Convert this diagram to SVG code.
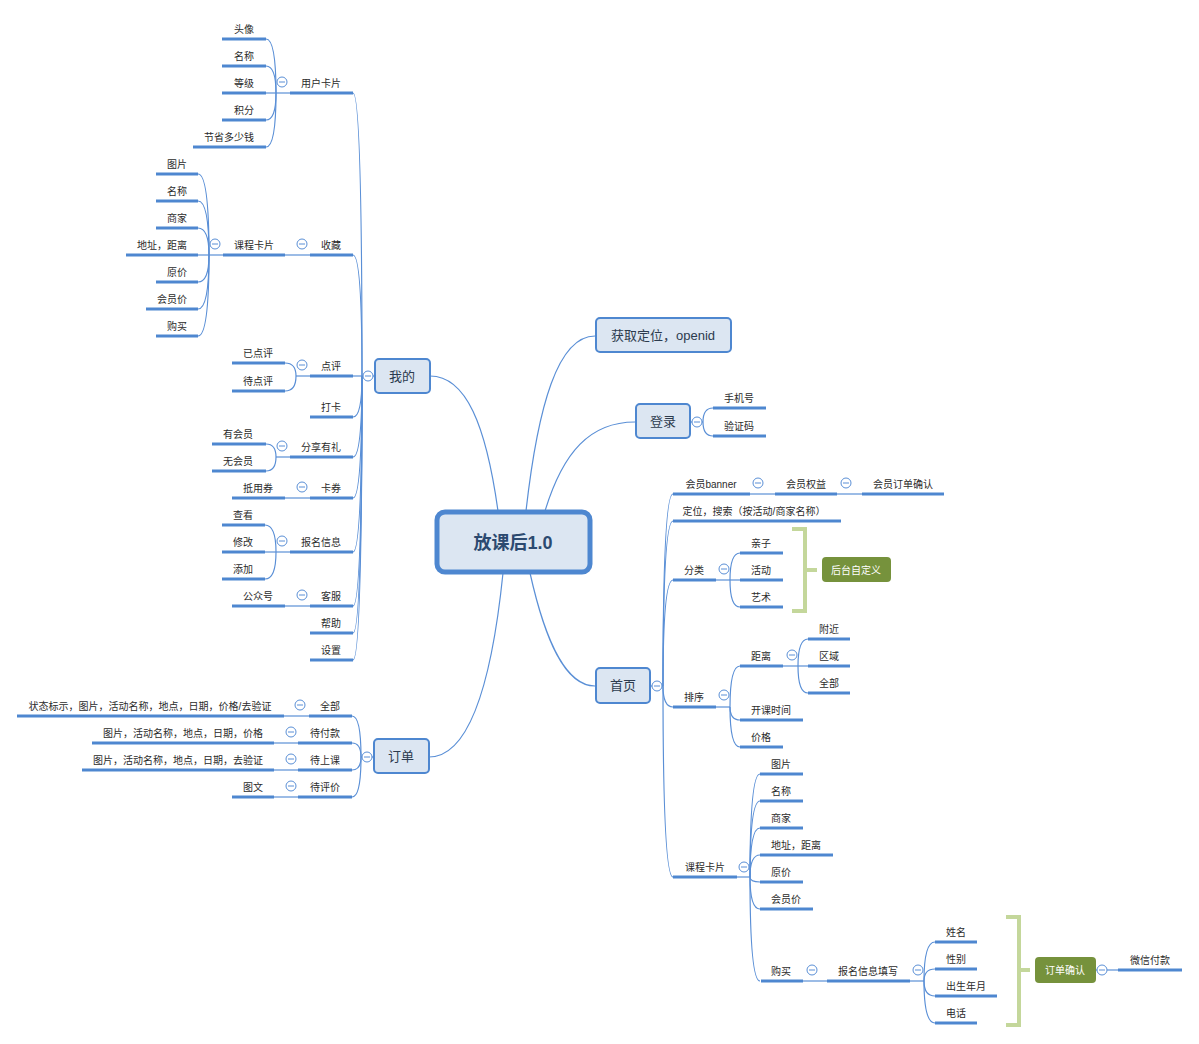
<svg xmlns="http://www.w3.org/2000/svg" width="1199" height="1044" viewBox="0 0 1199 1044">
<style>
  .u{stroke:#4e87d0;stroke-width:3;fill:none}
  .c{stroke:#5a8fd6;stroke-width:1.2;fill:none}
  .t{font-family:"Liberation Sans","Noto Sans CJK SC",sans-serif;font-size:10px;fill:#2b2b2b;text-anchor:middle}
  .n{fill:#dce6f2;stroke:#4e87d0;stroke-width:2}
  .nt{font-family:"Liberation Sans","Noto Sans CJK SC",sans-serif;font-size:13px;fill:#2c3b4e;text-anchor:middle}
  .tg circle{fill:#fff;stroke:#5a8fd6;stroke-width:1}
  .tg path{stroke:#5a8fd6;stroke-width:1}
  .br{stroke:#c4d79b;stroke-width:4;fill:none}
  .g{fill:#76923c}
  .gt{font-family:"Liberation Sans","Noto Sans CJK SC",sans-serif;font-size:10px;fill:#fff;text-anchor:middle}
</style>
<defs>
  <g id="tog" class="tg"><circle r="5"/><path d="M-3,0H3"/></g>
</defs>
<rect width="1199" height="1044" fill="#fff"/>

<!-- connectors -->
<g id="connectors">
  <!-- root to main topics -->
  <path class="c" d="M498,511 C486,425 466,376 430,376"/>
  <path class="c" d="M526,511 C538,405 558,336 595,336"/>
  <path class="c" d="M545,511 C563,452 590,422 635,422"/>
  <path class="c" d="M530,573 C545,640 565,686 595,686"/>
  <path class="c" d="M503,573 C492,680 470,757 429,757"/>

  <!-- 我的 trunk -->
  <path class="c" d="M374,376 H362"/>
  <path class="c" d="M353,93 Q362,93 362,376"/>
  <path class="c" d="M353,255 Q362,255 362,376"/>
  <path class="c" d="M353,376 H362"/>
  <path class="c" d="M353,417 Q362,417 362,376"/>
  <path class="c" d="M353,457 Q362,457 362,376"/>
  <path class="c" d="M353,498 Q362,498 362,376"/>
  <path class="c" d="M353,552 Q362,552 362,376"/>
  <path class="c" d="M353,606 Q362,606 362,376"/>
  <path class="c" d="M353,633 Q362,633 362,376"/>
  <path class="c" d="M353,660 Q362,660 362,376"/>

  <!-- 用户卡片 -->
  <path class="c" d="M290,93 H276"/>
  <path class="c" d="M266,39 Q276,39 276,93"/>
  <path class="c" d="M266,66 Q276,66 276,93"/>
  <path class="c" d="M266,93 H276"/>
  <path class="c" d="M266,120 Q276,120 276,93"/>
  <path class="c" d="M266,147 Q276,147 276,93"/>

  <!-- 收藏 / 课程卡片 -->
  <path class="c" d="M310,255 H285"/>
  <path class="c" d="M223,255 H209"/>
  <path class="c" d="M198,174 Q209,174 209,255"/>
  <path class="c" d="M198,201 Q209,201 209,255"/>
  <path class="c" d="M198,228 Q209,228 209,255"/>
  <path class="c" d="M198,255 H209"/>
  <path class="c" d="M198,282 Q209,282 209,255"/>
  <path class="c" d="M198,309 Q209,309 209,255"/>
  <path class="c" d="M198,336 Q209,336 209,255"/>

  <!-- 点评 -->
  <path class="c" d="M310,376 H296"/>
  <path class="c" d="M285,363 Q296,363 296,376"/>
  <path class="c" d="M285,391 Q296,391 296,376"/>

  <!-- 分享有礼 -->
  <path class="c" d="M290,457 H276"/>
  <path class="c" d="M266,444 Q276,444 276,457"/>
  <path class="c" d="M266,471 Q276,471 276,457"/>

  <!-- 卡券 -->
  <path class="c" d="M310,498 H285"/>

  <!-- 报名信息 -->
  <path class="c" d="M290,552 H276"/>
  <path class="c" d="M265,525 Q276,525 276,552"/>
  <path class="c" d="M265,552 H276"/>
  <path class="c" d="M265,579 Q276,579 276,552"/>

  <!-- 客服 -->
  <path class="c" d="M310,606 H285"/>

  <!-- 订单 -->
  <path class="c" d="M373,757 H361"/>
  <path class="c" d="M352,716 Q361,716 361,757"/>
  <path class="c" d="M352,743 Q361,743 361,757"/>
  <path class="c" d="M352,770 Q361,770 361,757"/>
  <path class="c" d="M352,797 Q361,797 361,757"/>
  <path class="c" d="M309,716 H284"/>
  <path class="c" d="M298,743 H274"/>
  <path class="c" d="M298,770 H274"/>
  <path class="c" d="M298,797 H274"/>

  <!-- 登录 -->
  <path class="c" d="M690,422 H703"/>
  <path class="c" d="M713,408 Q703,408 703,422"/>
  <path class="c" d="M713,436 Q703,436 703,422"/>

  <!-- 首页 trunk -->
  <path class="c" d="M650,686 H663"/>
  <path class="c" d="M673,494 Q663,494 663,686"/>
  <path class="c" d="M673,521 Q663,521 663,686"/>
  <path class="c" d="M673,580 Q663,580 663,686"/>
  <path class="c" d="M673,707 Q663,707 663,686"/>
  <path class="c" d="M673,877 Q663,877 663,686"/>

  <!-- 会员 chain -->
  <path class="c" d="M750,494 H775"/>
  <path class="c" d="M837,494 H862"/>

  <!-- 分类 -->
  <path class="c" d="M716,580 H730"/>
  <path class="c" d="M740,553 Q730,553 730,580"/>
  <path class="c" d="M740,580 H730"/>
  <path class="c" d="M740,607 Q730,607 730,580"/>

  <!-- 排序 -->
  <path class="c" d="M716,707 H730"/>
  <path class="c" d="M740,666 Q730,666 730,707"/>
  <path class="c" d="M740,720 Q730,720 730,707"/>
  <path class="c" d="M740,747 Q730,747 730,707"/>
  <path class="c" d="M783,666 H798"/>
  <path class="c" d="M808,639 Q798,639 798,666"/>
  <path class="c" d="M808,666 H798"/>
  <path class="c" d="M808,693 Q798,693 798,666"/>

  <!-- 课程卡片 (首页) -->
  <path class="c" d="M737,877 H750"/>
  <path class="c" d="M760,774 Q750,774 750,877"/>
  <path class="c" d="M760,801 Q750,801 750,877"/>
  <path class="c" d="M760,828 Q750,828 750,877"/>
  <path class="c" d="M760,855 Q750,855 750,877"/>
  <path class="c" d="M760,882 Q750,882 750,877"/>
  <path class="c" d="M760,909 Q750,909 750,877"/>
  <path class="c" d="M760,981 Q750,981 750,877"/>

  <!-- 购买 / 报名信息填写 -->
  <path class="c" d="M803,981 H827"/>
  <path class="c" d="M910,981 H924"/>
  <path class="c" d="M935,942 Q924,942 924,981"/>
  <path class="c" d="M935,969 Q924,969 924,981"/>
  <path class="c" d="M935,996 Q924,996 924,981"/>
  <path class="c" d="M935,1023 Q924,1023 924,981"/>

  <!-- 订单确认 -->
  <path class="c" d="M1096,970 H1118"/>

  <!-- summary brackets -->
  <path class="br" d="M792,529 H805 V611 H792 M805,570 H817"/>
  <path class="br" d="M1006,917 H1019 V1025 H1006 M1019,970 H1030"/>
</g>

<!-- root -->
<g id="root">
  <rect x="437" y="512" width="153" height="60" rx="8" fill="#dce6f2" stroke="#4e87d0" stroke-width="5"/>
  <text x="513" y="549" font-family="'Liberation Sans','Noto Sans CJK SC',sans-serif" font-size="18" font-weight="bold" fill="#2c4a70" text-anchor="middle">放课后1.0</text>
</g>

<!-- 我的 -->
<g id="wode">
  <rect class="n" x="375" y="359" width="55" height="34" rx="4"/>
  <text class="nt" x="402" y="381">我的</text>
  <use href="#tog" x="368" y="376"/>
</g>

<g id="yonghukapian">
  <path class="u" d="M290,93 H353"/><text class="t" x="321" y="87">用户卡片</text>
  <use href="#tog" x="282" y="82"/>
</g>
<g id="touxiang"><path class="u" d="M222,39 H266"/><text class="t" x="244" y="33">头像</text></g>
<g id="mingcheng1"><path class="u" d="M222,66 H266"/><text class="t" x="244" y="60">名称</text></g>
<g id="dengji"><path class="u" d="M222,93 H266"/><text class="t" x="244" y="87">等级</text></g>
<g id="jifen"><path class="u" d="M222,120 H266"/><text class="t" x="244" y="114">积分</text></g>
<g id="jiesheng"><path class="u" d="M193,147 H266"/><text class="t" x="229" y="141">节省多少钱</text></g>

<g id="shoucang">
  <path class="u" d="M310,255 H353"/><text class="t" x="331" y="249">收藏</text>
  <use href="#tog" x="302" y="244"/>
</g>
<g id="kechengkapian1">
  <path class="u" d="M223,255 H285"/><text class="t" x="254" y="249">课程卡片</text>
  <use href="#tog" x="215" y="244"/>
</g>
<g id="tupian1"><path class="u" d="M156,174 H198"/><text class="t" x="177" y="168">图片</text></g>
<g id="mingcheng2"><path class="u" d="M156,201 H198"/><text class="t" x="177" y="195">名称</text></g>
<g id="shangjia1"><path class="u" d="M156,228 H198"/><text class="t" x="177" y="222">商家</text></g>
<g id="dizhi1"><path class="u" d="M126,255 H198"/><text class="t" x="162" y="249">地址，距离</text></g>
<g id="yuanjia1"><path class="u" d="M156,282 H198"/><text class="t" x="177" y="276">原价</text></g>
<g id="huiyuanjia1"><path class="u" d="M146,309 H198"/><text class="t" x="172" y="303">会员价</text></g>
<g id="goumai1"><path class="u" d="M156,336 H198"/><text class="t" x="177" y="330">购买</text></g>

<g id="dianping">
  <path class="u" d="M310,376 H353"/><text class="t" x="331" y="370">点评</text>
  <use href="#tog" x="302" y="365"/>
</g>
<g id="yidianping"><path class="u" d="M232,363 H285"/><text class="t" x="258" y="357">已点评</text></g>
<g id="daidianping"><path class="u" d="M232,391 H285"/><text class="t" x="258" y="385">待点评</text></g>

<g id="daka"><path class="u" d="M310,417 H353"/><text class="t" x="331" y="411">打卡</text></g>

<g id="fenxiang">
  <path class="u" d="M290,457 H353"/><text class="t" x="321" y="451">分享有礼</text>
  <use href="#tog" x="282" y="446"/>
</g>
<g id="youhuiyuan"><path class="u" d="M212,444 H266"/><text class="t" x="238" y="438">有会员</text></g>
<g id="wuhuiyuan"><path class="u" d="M212,471 H266"/><text class="t" x="238" y="465">无会员</text></g>

<g id="kaquan">
  <path class="u" d="M310,498 H353"/><text class="t" x="331" y="492">卡券</text>
  <use href="#tog" x="302" y="487"/>
</g>
<g id="diyongquan"><path class="u" d="M232,498 H285"/><text class="t" x="258" y="492">抵用券</text></g>

<g id="baomingxinxi">
  <path class="u" d="M290,552 H353"/><text class="t" x="321" y="546">报名信息</text>
  <use href="#tog" x="282" y="541"/>
</g>
<g id="chakan"><path class="u" d="M222,525 H265"/><text class="t" x="243" y="519">查看</text></g>
<g id="xiugai"><path class="u" d="M222,552 H265"/><text class="t" x="243" y="546">修改</text></g>
<g id="tianjia"><path class="u" d="M222,579 H265"/><text class="t" x="243" y="573">添加</text></g>

<g id="kefu">
  <path class="u" d="M310,606 H353"/><text class="t" x="331" y="600">客服</text>
  <use href="#tog" x="302" y="595"/>
</g>
<g id="gongzhonghao"><path class="u" d="M232,606 H285"/><text class="t" x="258" y="600">公众号</text></g>
<g id="bangzhu"><path class="u" d="M310,633 H353"/><text class="t" x="331" y="627">帮助</text></g>
<g id="shezhi"><path class="u" d="M310,660 H353"/><text class="t" x="331" y="654">设置</text></g>

<!-- 订单 -->
<g id="dingdan">
  <rect class="n" x="374" y="739" width="55" height="34" rx="4"/>
  <text class="nt" x="401" y="761">订单</text>
  <use href="#tog" x="367" y="757"/>
</g>
<g id="quanbu1">
  <path class="u" d="M309,716 H352"/><text class="t" x="330" y="710">全部</text>
  <use href="#tog" x="300" y="705"/>
</g>
<g id="quanbu1-detail"><path class="u" d="M17,716 H284"/><text class="t" x="150" y="710">状态标示，图片，活动名称，地点，日期，价格/去验证</text></g>
<g id="daifukuan">
  <path class="u" d="M298,743 H352"/><text class="t" x="325" y="737">待付款</text>
  <use href="#tog" x="291" y="732"/>
</g>
<g id="daifukuan-detail"><path class="u" d="M92,743 H274"/><text class="t" x="183" y="737">图片，活动名称，地点，日期，价格</text></g>
<g id="daishangke">
  <path class="u" d="M298,770 H352"/><text class="t" x="325" y="764">待上课</text>
  <use href="#tog" x="291" y="759"/>
</g>
<g id="daishangke-detail"><path class="u" d="M82,770 H274"/><text class="t" x="178" y="764">图片，活动名称，地点，日期，去验证</text></g>
<g id="daipingjia">
  <path class="u" d="M298,797 H352"/><text class="t" x="325" y="791">待评价</text>
  <use href="#tog" x="291" y="786"/>
</g>
<g id="tuwen"><path class="u" d="M232,797 H274"/><text class="t" x="253" y="791">图文</text></g>

<!-- 获取定位 -->
<g id="huoqudingwei">
  <rect class="n" x="596" y="318" width="135" height="34" rx="4"/>
  <text class="nt" x="663" y="340">获取定位，openid</text>
</g>

<!-- 登录 -->
<g id="denglu">
  <rect class="n" x="636" y="404" width="54" height="34" rx="4"/>
  <text class="nt" x="663" y="426">登录</text>
  <use href="#tog" x="697" y="422"/>
</g>
<g id="shoujihao"><path class="u" d="M713,408 H766"/><text class="t" x="739" y="402">手机号</text></g>
<g id="yanzhengma"><path class="u" d="M713,436 H766"/><text class="t" x="739" y="430">验证码</text></g>

<!-- 首页 -->
<g id="shouye">
  <rect class="n" x="596" y="668" width="54" height="35" rx="4"/>
  <text class="nt" x="623" y="690">首页</text>
  <use href="#tog" x="657" y="686"/>
</g>
<g id="huiyuanbanner">
  <path class="u" d="M673,494 H750"/><text class="t" x="711" y="488">会员banner</text>
  <use href="#tog" x="758" y="483"/>
</g>
<g id="huiyuanquanyi">
  <path class="u" d="M775,494 H837"/><text class="t" x="806" y="488">会员权益</text>
  <use href="#tog" x="846" y="483"/>
</g>
<g id="huiyuandingdan"><path class="u" d="M862,494 H944"/><text class="t" x="903" y="488">会员订单确认</text></g>
<g id="dingwei"><path class="u" d="M673,521 H841"/><text class="t" x="754" y="515">定位，搜索（按活动/商家名称）</text></g>

<g id="fenlei">
  <path class="u" d="M673,580 H716"/><text class="t" x="694" y="574">分类</text>
  <use href="#tog" x="724" y="569"/>
</g>
<g id="qinzi"><path class="u" d="M740,553 H783"/><text class="t" x="761" y="547">亲子</text></g>
<g id="huodong"><path class="u" d="M740,580 H783"/><text class="t" x="761" y="574">活动</text></g>
<g id="yishu"><path class="u" d="M740,607 H783"/><text class="t" x="761" y="601">艺术</text></g>
<g id="houtai">
  <rect class="g" x="822" y="557" width="69" height="25" rx="4"/>
  <text class="gt" x="856" y="574">后台自定义</text>
</g>

<g id="paixu">
  <path class="u" d="M673,707 H716"/><text class="t" x="694" y="701">排序</text>
  <use href="#tog" x="724" y="695"/>
</g>
<g id="juli">
  <path class="u" d="M740,666 H783"/><text class="t" x="761" y="660">距离</text>
  <use href="#tog" x="792" y="655"/>
</g>
<g id="fujin"><path class="u" d="M808,639 H850"/><text class="t" x="829" y="633">附近</text></g>
<g id="quyu"><path class="u" d="M808,666 H850"/><text class="t" x="829" y="660">区域</text></g>
<g id="quanbu2"><path class="u" d="M808,693 H850"/><text class="t" x="829" y="687">全部</text></g>
<g id="kaikeshijian"><path class="u" d="M740,720 H803"/><text class="t" x="771" y="714">开课时间</text></g>
<g id="jiage"><path class="u" d="M740,747 H783"/><text class="t" x="761" y="741">价格</text></g>

<g id="kechengkapian2">
  <path class="u" d="M673,877 H737"/><text class="t" x="705" y="871">课程卡片</text>
  <use href="#tog" x="744" y="867"/>
</g>
<g id="tupian2"><path class="u" d="M760,774 H803"/><text class="t" x="781" y="768">图片</text></g>
<g id="mingcheng3"><path class="u" d="M760,801 H803"/><text class="t" x="781" y="795">名称</text></g>
<g id="shangjia2"><path class="u" d="M760,828 H803"/><text class="t" x="781" y="822">商家</text></g>
<g id="dizhi2"><path class="u" d="M760,855 H833"/><text class="t" x="796" y="849">地址，距离</text></g>
<g id="yuanjia2"><path class="u" d="M760,882 H803"/><text class="t" x="781" y="876">原价</text></g>
<g id="huiyuanjia2"><path class="u" d="M760,909 H813"/><text class="t" x="786" y="903">会员价</text></g>
<g id="goumai2">
  <path class="u" d="M761,981 H803"/><text class="t" x="781" y="975">购买</text>
  <use href="#tog" x="812" y="970"/>
</g>
<g id="baomingtianxie">
  <path class="u" d="M827,981 H910"/><text class="t" x="868" y="975">报名信息填写</text>
  <use href="#tog" x="918" y="970"/>
</g>
<g id="xingming"><path class="u" d="M935,942 H977"/><text class="t" x="956" y="936">姓名</text></g>
<g id="xingbie"><path class="u" d="M935,969 H977"/><text class="t" x="956" y="963">性别</text></g>
<g id="chusheng"><path class="u" d="M935,996 H997"/><text class="t" x="966" y="990">出生年月</text></g>
<g id="dianhua"><path class="u" d="M935,1023 H977"/><text class="t" x="956" y="1017">电话</text></g>
<g id="dingdanqueren">
  <rect class="g" x="1035" y="957" width="61" height="26" rx="4"/>
  <text class="gt" x="1065" y="974">订单确认</text>
  <use href="#tog" x="1102" y="970"/>
</g>
<g id="weixinfukuan"><path class="u" d="M1118,970 H1182"/><text class="t" x="1150" y="964">微信付款</text></g>
</svg>
